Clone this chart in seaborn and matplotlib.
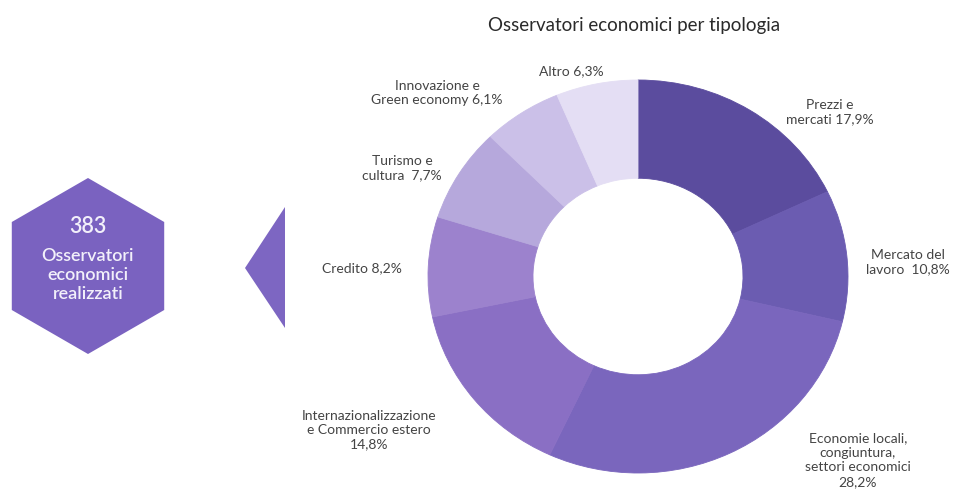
import matplotlib
matplotlib.use("Agg")
import matplotlib.pyplot as plt
from matplotlib.patches import RegularPolygon, Polygon
import seaborn as sns

# ---- data ----
categories = ["Prezzi e mercati", "Mercato del lavoro",
              "Economie locali, congiuntura, settori economici",
              "Internazionalizzazione e Commercio estero", "Credito",
              "Turismo e cultura", "Innovazione e Green economy", "Altro"]
shares = [17.9, 10.8, 28.2, 14.8, 8.2, 7.7, 6.1, 6.3]
label_formats = ["Prezzi e\nmercati {}", "Mercato del\nlavoro  {}",
                 "Economie locali,\ncongiuntura,\nsettori economici\n{}",
                 "Internazionalizzazione\ne Commercio estero\n{}",
                 "Credito {}", "Turismo e\ncultura  {}",
                 "Innovazione e\nGreen economy {}", "Altro {}"]
total_count = 383
title = "Osservatori economici per tipologia"
hex_lines = ["Osservatori", "economici", "realizzati"]

# ---- style ----
sns.set_theme(style="white")
plt.rcParams["font.family"] = ["Lato", "DejaVu Sans"]

colors = ["#5b4c9e", "#6b5cb1", "#7a66bd", "#8a6fc4", "#9c82cd",
          "#b6a8dc", "#cbc0e8", "#e4def4"]
# label centre positions in pixels (layout only)
label_pos = [(830, 112), (908, 262), (858, 460), (369, 430),
             (362, 268), (402, 168), (437, 93), (571, 71)]

W, H = 960, 494
fig = plt.figure(figsize=(W / 100, H / 100), dpi=100)
fig.patch.set_facecolor("white")

# donut axes (bounding box of the ring, in pixels)
x0, y0, bw, bh = 428, 80, 420, 393
ax = fig.add_axes([x0 / W, 1 - (y0 + bh) / H, bw / W, bh / H])
ax.pie(shares, colors=colors, startangle=90, counterclock=False,
       radius=1.0, wedgeprops=dict(width=0.5, edgecolor="none", linewidth=0))
for w, c in zip(ax.patches, colors):
    w.set_edgecolor(c)
    w.set_linewidth(0.6)
ax.set_aspect("auto")
ax.set_xlim(-1, 1)
ax.set_ylim(-1, 1)
ax.axis("off")

# overlay axes in pixel coordinates
ov = fig.add_axes([0, 0, 1, 1], facecolor="none")
ov.set_xlim(0, W)
ov.set_ylim(H, 0)
ov.axis("off")

ov.text(634, 25, title, ha="center", va="center", fontsize=13.5,
        color="#2a2a2a")

for fmt, v, (lx, ly) in zip(label_formats, shares, label_pos):
    txt = fmt.format(f"{v:.1f}".replace(".", ",") + "%")
    ov.text(lx, ly, txt, ha="center", va="center", fontsize=10,
            color="#444444", linespacing=1.25)

# hexagon badge
hexa = RegularPolygon((88, 266), numVertices=6, radius=88, orientation=0,
                      facecolor="#7a62c0", edgecolor="none")
ov.add_patch(hexa)
ov.text(88, 226, str(total_count), ha="center", va="center", fontsize=15.5,
        color="#f2f0fa", fontweight="semibold")
for i, line in enumerate(hex_lines):
    ov.text(88, 256 + i * 19, line, ha="center", va="center", fontsize=13,
            color="#f2f0fa", fontweight="semibold")

# pointer triangle
tri = Polygon([(245, 268), (285, 207), (285, 328)], closed=True,
              facecolor="#7d66c2", edgecolor="none")
ov.add_patch(tri)

fig.savefig("out.png", dpi=100, facecolor="white")
